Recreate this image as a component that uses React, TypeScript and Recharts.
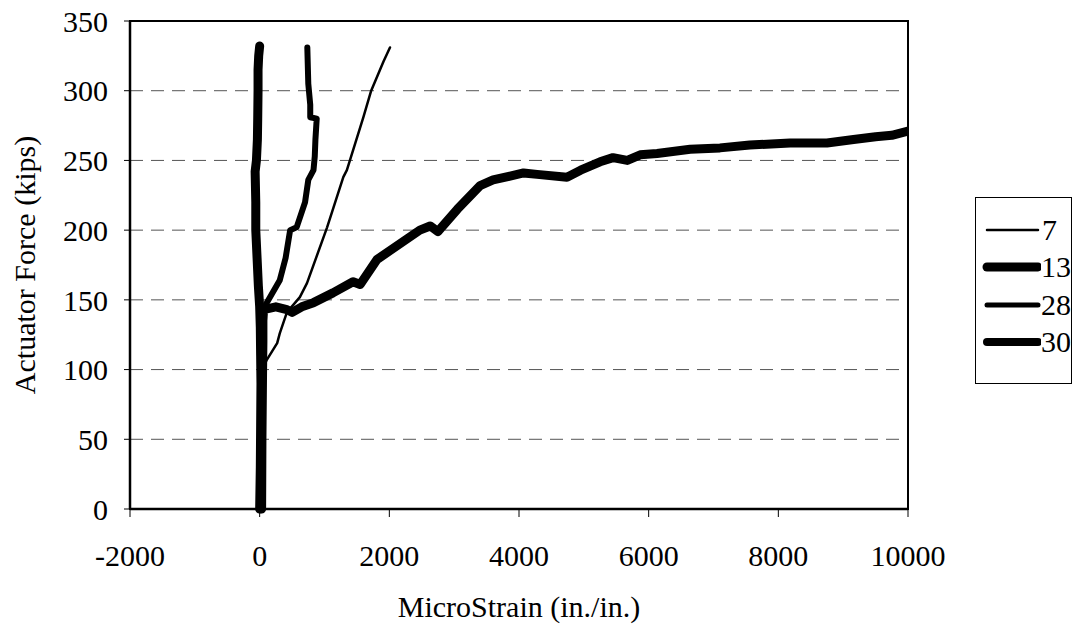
import React from 'react';
import {
    LineChart,
    Line,
    XAxis,
    YAxis,
    CartesianGrid,
    ReferenceArea,
    Label,
} from 'recharts';

// Strain readings (in./in. x 1e-6) and actuator force (kips)
const strain7 = [0, 20, 40, 110, 270, 310, 420, 620, 730, 1040, 1290, 1345, 1600, 1720, 1910, 1960, 2010];
const force7 = [0, 50, 100, 107, 119, 126, 141, 152, 162, 202, 238, 243, 281, 300, 321, 326, 331];

const strain13 = [0, 10, 15, 20, 15, 10, 0, -20, -40, -60, -60, -70, -50, -35, -30, -25, -25, -15, 0];
const force13 = [0, 30, 60, 90, 110, 130, 145, 160, 180, 200, 220, 242, 250, 265, 280, 300, 315, 325, 332];

const strain28 = [0, 10, 20, 40, 50, 110, 310, 400, 470, 570, 700, 750, 830, 850, 860, 880, 780, 780, 750, 735];
const force28 = [0, 50, 100, 130, 140, 148, 164, 180, 200, 202, 220, 236, 243, 253, 265, 280, 281, 290, 305, 331];

const strain30 = [
    30, 35, 45, 50, 50, 60, 250, 420, 500, 650, 830, 1130, 1440, 1550, 1810, 2470, 2630, 2750, 3050,
    3400, 3600, 4070, 4280, 4740, 4950, 5250, 5450, 5670, 5870, 6130, 6640, 7100, 7560, 8180, 8750,
    9160, 9500, 9750, 10000,
];
const force30 = [
    0, 50, 100, 120, 135, 143, 145, 143, 141, 145, 148, 155, 163, 161, 179, 200, 203, 199, 215,
    232, 236, 241, 240, 238, 243, 249, 252, 250, 254, 255, 258, 259, 261, 262.5, 262.5,
    265, 267, 268, 271,
];

const xTicks = [-2000, 0, 2000, 4000, 6000, 8000, 10000];
const yTicks = [0, 50, 100, 150, 200, 250, 300, 350];

const toPoints = (xs: number[], ys: number[]) => xs.map((x, i) => ({ x, y: ys[i] }));

const series = [
    { name: '7', data: toPoints(strain7, force7), width: 2.5, legendWidth: 2.5 },
    { name: '13', data: toPoints(strain13, force13), width: 9, legendWidth: 9 },
    { name: '28', data: toPoints(strain28, force28), width: 6, legendWidth: 5 },
    { name: '30', data: toPoints(strain30, force30), width: 9, legendWidth: 8 },
];

const FONT = '"Liberation Serif", "Times New Roman", serif';
const FONT_SIZE = 30;

const LegendBox = () => (
    <div
        style={{
            position: 'absolute',
            left: 975,
            top: 197,
            border: '1px solid #000',
            background: '#fff',
            width: 97,
            height: 187,
            boxSizing: 'border-box',
            paddingTop: 13,
            fontFamily: FONT,
            fontSize: FONT_SIZE,
            color: '#000',
        }}
    >
        {series.map((s) => (
            <div key={s.name} style={{ display: 'flex', alignItems: 'center', height: 37.5 }}>
                <svg width={60} height={12} style={{ marginLeft: 6 }}>
                    <line
                        x1={5}
                        y1={6}
                        x2={56}
                        y2={6}
                        stroke="#000"
                        strokeWidth={s.legendWidth}
                        strokeLinecap="round"
                    />
                </svg>
                <span style={{ lineHeight: 1 }}>{s.name}</span>
            </div>
        ))}
    </div>
);

const App: React.FC = () => {
    return (
        <div style={{ position: 'absolute', left: 0, top: 0, width: 1085, height: 632, background: '#fff' }}>
            <LineChart
                width={1085}
                height={632}
                margin={{ top: 21, right: 177, bottom: 63, left: 10 }}
                style={{ fontFamily: FONT }}
            >
                <CartesianGrid vertical={false} stroke="#555" strokeDasharray="13 8" />
                <XAxis
                    dataKey="x"
                    type="number"
                    domain={[-2000, 10000]}
                    ticks={xTicks}
                    allowDataOverflow
                    height={60}
                    tickSize={8}
                    tickMargin={28}
                    stroke="#000"
                    axisLine={{ stroke: '#000', strokeWidth: 2.5 }}
                    tick={{ fill: '#000', fontSize: FONT_SIZE, fontFamily: FONT }}
                >
                    <Label
                        value="MicroStrain (in./in.)"
                        position="bottom"
                        offset={27}
                        style={{ fill: '#000', fontSize: FONT_SIZE, fontFamily: FONT }}
                    />
                </XAxis>
                <YAxis
                    type="number"
                    domain={[0, 350]}
                    ticks={yTicks}
                    width={120}
                    tickSize={6}
                    tickMargin={16}
                    stroke="#000"
                    axisLine={{ stroke: '#000', strokeWidth: 2.5 }}
                    tick={{ fill: '#000', fontSize: FONT_SIZE, fontFamily: FONT }}
                >
                    <Label
                        value="Actuator Force (kips)"
                        angle={-90}
                        position="insideLeft"
                        offset={14}
                        style={{ fill: '#000', fontSize: FONT_SIZE, fontFamily: FONT, textAnchor: 'middle' }}
                    />
                </YAxis>
                <ReferenceArea
                    x1={-2000}
                    x2={10000}
                    y1={0}
                    y2={350}
                    fill="none"
                    stroke="#000"
                    strokeWidth={2}
                    ifOverflow="visible"
                />
                {series.map((s) => (
                    <Line
                        key={s.name}
                        data={s.data}
                        dataKey="y"
                        name={s.name}
                        type="linear"
                        stroke="#000"
                        strokeWidth={s.width}
                        strokeLinejoin="round"
                        strokeLinecap="round"
                        dot={false}
                        isAnimationActive={false}
                    />
                ))}
            </LineChart>
            <LegendBox />
        </div>
    );
};

export default App;
